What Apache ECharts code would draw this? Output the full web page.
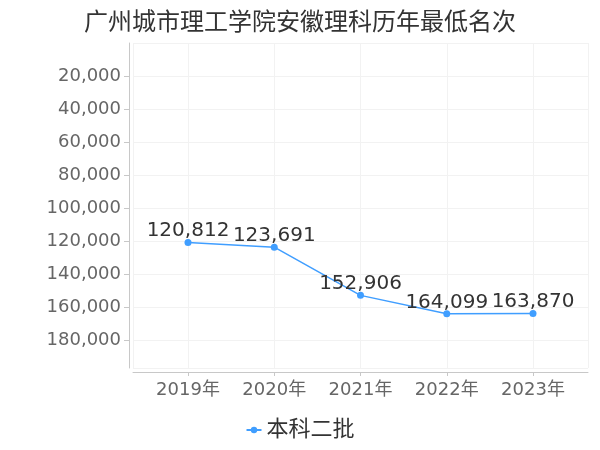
<!DOCTYPE html>
<html>
<head>
<meta charset="utf-8">
<script src="https://cdn.jsdelivr.net/npm/echarts@6/dist/echarts.min.js"></script>
<style>
  html, body { margin: 0; padding: 0; background: #fff; }
  #chart { width: 600px; height: 450px; }
</style>
</head>
<body>
<div id="chart"></div>
<script>
const years = ['2019年', '2020年', '2021年', '2022年', '2023年'];
const minRank = [120812, 123691, 152906, 164099, 163870];
const seriesName = '本科二批';

const font = 'DejaVu Sans, Noto Sans CJK SC, sans-serif';
const blue = '#409EFF';
const yMax = Math.max(...minRank) * 1.2;
const fmt = v => Number(v).toLocaleString('en-US');

const chart = echarts.init(document.getElementById('chart'));
const option = {
  textStyle: { fontFamily: font },
  title: {
    text: '广州城市理工学院安徽理科历年最低名次',
    left: 'center',
    top: 7,
    textStyle: { fontSize: 24, fontWeight: 'normal', color: '#333', fontFamily: font }
  },
  legend: {
    bottom: 4,
    left: 'center',
    itemWidth: 15,
    itemHeight: 8,
    itemGap: 5,
    textStyle: { fontSize: 22, color: '#333', fontFamily: font }
  },
  // grid 0: frame, y axis, horizontal lines; grid 1: data
  grid: [
    { left: 133, right: 12, top: 43, bottom: 82 },
    { left: 188, right: 67, top: 43, bottom: 82 }
  ],
  xAxis: [
    {
      gridIndex: 0,
      type: 'value',
      position: 'bottom',
      min: 0, max: 1, interval: 1,
      offset: 4,
      axisLine: { show: true, onZero: false, lineStyle: { color: '#c8c8c8' } },
      axisTick: { show: false },
      axisLabel: { show: false },
      splitLine: { show: true, lineStyle: { color: '#f2f2f2' } }
    },
    {
      gridIndex: 1,
      type: 'category',
      position: 'bottom',
      data: years,
      boundaryGap: false,
      offset: 4,
      axisLine: { show: false, onZero: false },
      axisTick: { show: true, length: 4, lineStyle: { color: '#c8c8c8' } },
      axisLabel: { fontSize: 18, color: '#666', margin: 9, fontFamily: font },
      splitLine: { show: true, lineStyle: { color: '#f2f2f2' } }
    }
  ],
  yAxis: [
    {
      gridIndex: 0,
      type: 'value',
      position: 'left',
      inverse: true,
      min: 0, max: yMax, interval: 20000,
      offset: 4,
      axisLine: { show: true, onZero: false, lineStyle: { color: '#c8c8c8' } },
      axisTick: { show: true, length: 5, lineStyle: { color: '#c8c8c8' } },
      axisLabel: {
        fontSize: 18, color: '#666', margin: 8, fontFamily: font,
        showMinLabel: false, showMaxLabel: false,
        formatter: fmt
      },
      splitLine: { show: true, lineStyle: { color: '#f2f2f2' } }
    },
    {
      gridIndex: 1,
      type: 'value',
      inverse: true,
      min: 0, max: yMax,
      show: false,
      splitLine: { show: false }
    }
  ],
  series: [
    {
      name: seriesName,
      type: 'line',
      xAxisIndex: 1,
      yAxisIndex: 1,
      data: minRank,
      symbol: 'circle',
      symbolSize: 7,
      itemStyle: { color: blue },
      lineStyle: { color: blue, width: 1.5 },
      label: {
        show: true,
        position: 'top',
        distance: 0,
        offset: [0, 2],
        fontSize: 20,
        color: '#333',
        fontFamily: font,
        formatter: p => fmt(p.value)
      }
    }
  ]
};
option && chart.setOption(option);
</script>
</body>
</html>
